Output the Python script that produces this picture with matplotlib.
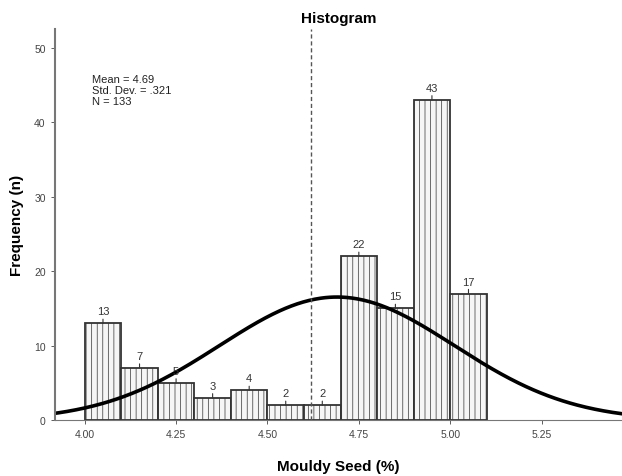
import numpy as np
import matplotlib
matplotlib.use("Agg")
import matplotlib.pyplot as plt

# histogram data
bin_left = [4.00, 4.10, 4.20, 4.30, 4.40, 4.50, 4.60, 4.70, 4.80, 4.90, 5.00]
counts = [13, 7, 5, 3, 4, 2, 2, 22, 15, 43, 17]
bin_width = 0.10
mean_val = 4.69
sd_val = 0.321
n_total = 133
ref_line = 4.62
xticks = [4.00, 4.25, 4.50, 4.75, 5.00, 5.25]
yticks = [0, 10, 20, 30, 40, 50]

plt.rcParams['font.family'] = ['Liberation Sans', 'DejaVu Sans']
plt.rcParams['hatch.color'] = '#b5b5b5'
plt.rcParams['hatch.linewidth'] = 0.5

fig = plt.figure(figsize=(6.22, 4.77), dpi=100)
ax = fig.add_axes([0.088, 0.117, 0.912, 0.82])

bars = ax.bar(bin_left, counts, width=bin_width, align='edge',
              color='#f6f6f6', edgecolor='#333333', linewidth=1.3, hatch='|||')

for x, c in zip(bin_left, counts):
    ax.annotate(str(c), xy=(x + bin_width / 2, c), xytext=(0, 5),
                textcoords='offset points', ha='center', va='bottom',
                fontsize=8, color='#333333',
                arrowprops=dict(arrowstyle='-', color='#333333', lw=0.8,
                                shrinkA=0, shrinkB=0))

# normal curve scaled to counts
xs = np.linspace(3.90, 5.50, 400)
ys = n_total * bin_width / (sd_val * np.sqrt(2 * np.pi)) * np.exp(-0.5 * ((xs - mean_val) / sd_val) ** 2)
ax.plot(xs, ys, color='black', lw=2.6)

ax.axvline(ref_line, color='#555555', lw=1.0, ls=(0, (3, 2)))

ax.text(0.066, 0.885, "Mean = 4.69\nStd. Dev. = .321\nN = 133",
        transform=ax.transAxes, fontsize=8, va='top', ha='left',
        linespacing=1.1, color='#222222')

ax.set_xlim(3.918, 5.47)
ax.set_ylim(0, 52.5)
ax.set_xticks(xticks)
ax.set_xticklabels(["%.2f" % t for t in xticks])
ax.set_yticks(yticks)
ax.tick_params(labelsize=7.5, colors='#444444', length=3, width=0.6)
ax.spines['top'].set_visible(False)
ax.spines['right'].set_visible(False)
ax.spines['left'].set_color('#777777')
ax.spines['left'].set_linewidth(1.5)
ax.spines['bottom'].set_color('#777777')
ax.spines['bottom'].set_linewidth(0.8)

ax.set_xlabel("Mouldy Seed (%)", fontsize=11, fontweight='bold', labelpad=14)
ax.set_ylabel("Frequency (n)", fontsize=11, fontweight='bold', labelpad=7)
ax.set_title("Histogram", fontsize=11, fontweight='bold', pad=5)

fig.savefig("out.png", dpi=100)
